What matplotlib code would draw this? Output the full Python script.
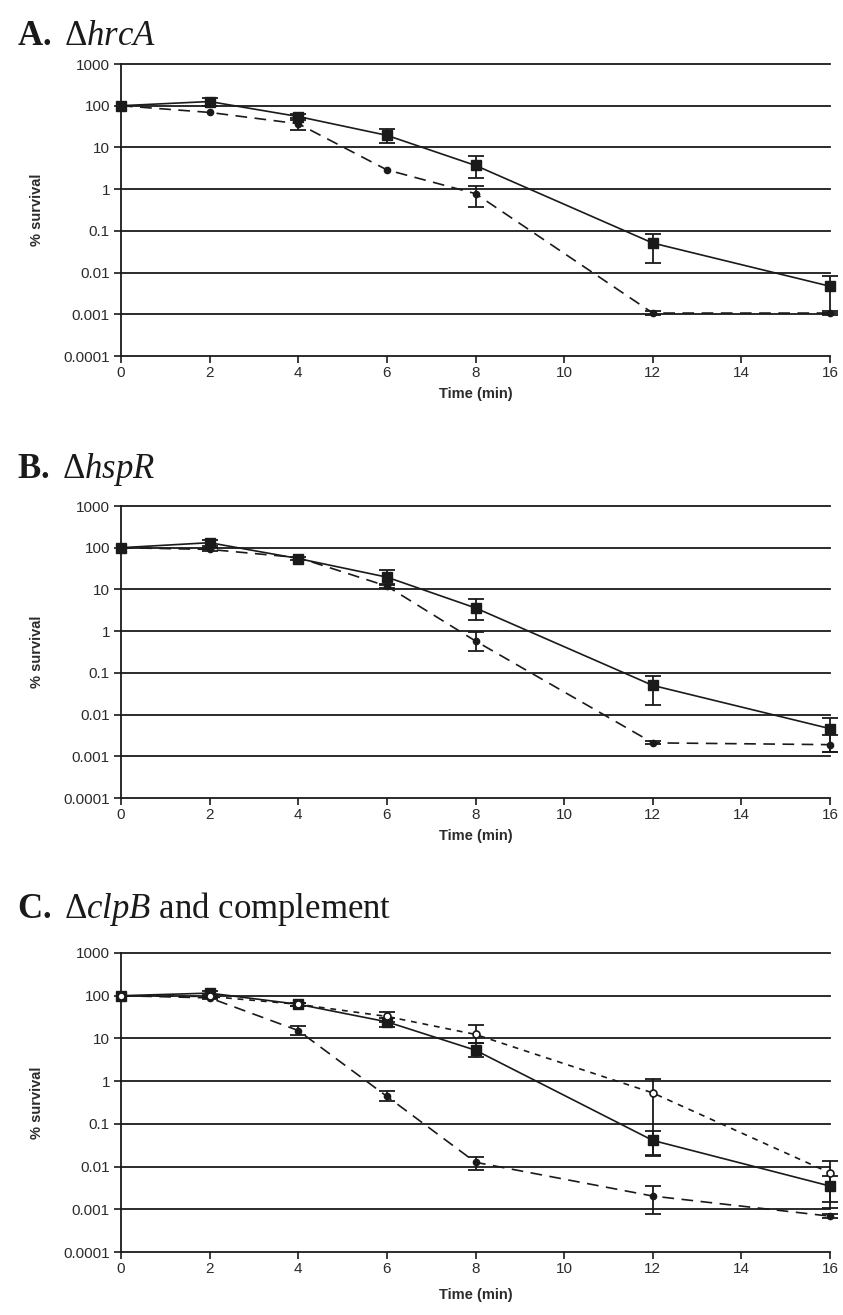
import numpy as np
import matplotlib.pyplot as plt

plt.rcParams['font.family'] = ['Liberation Sans', 'DejaVu Sans']
plt.rcParams['mathtext.fontset'] = 'custom'
plt.rcParams['mathtext.rm'] = 'Liberation Serif'
plt.rcParams['mathtext.it'] = 'Liberation Serif:italic'
plt.rcParams['mathtext.bf'] = 'Liberation Serif:bold'

time = [0, 2, 4, 6, 8, 12, 16]
nan = np.nan

# ---- A. hrcA ----
a_wt = [100, 126, 55, 19.5, 3.7, 0.051, 0.0047]
a_wt_lo = [nan, 100, 46, 12.7, 1.8, 0.017, 0.0011]
a_wt_hi = [nan, 155, 65, 27.6, 6.2, 0.086, 0.0081]
a_mut = [100, 69, 37, 2.9, 0.78, 0.00107, 0.00107]
a_mut_lo = [nan, nan, 26.5, nan, 0.37, 0.00094, 0.00094]
a_mut_hi = [nan, nan, 50, nan, 1.2, 0.00122, 0.00122]

# ---- B. hspR ----
b_wt = [100, 132, 55, 19.7, 3.6, 0.050, 0.0046]
b_wt_lo = [nan, 110, 50, 13.7, 1.8, 0.017, 0.0013]
b_wt_hi = [nan, 155, 61, 28.7, 6.0, 0.086, 0.0083]
b_mut = [100, 91, 58, 12, 0.58, 0.0021, 0.0019]
b_mut_lo = [nan, 84, nan, 11, 0.33, 0.0020, 0.0013]
b_mut_hi = [nan, 98, nan, 13, 0.93, 0.0023, 0.0032]

# ---- C. clpB and complement ----
c_wt = [100, 115, 63, 24.5, 5.3, 0.041, 0.0035]
c_wt_lo = [nan, 100, 58, 19, 3.6, 0.018, 0.0011]
c_wt_hi = [nan, 130, 68, 29.5, 7.9, 0.069, 0.006]
c_mut = [100, 89, 15.3, 0.44, 0.0126, 0.00204, 0.00069]
c_mut_lo = [nan, 82, 12, 0.34, 0.0081, 0.00079, 0.00062]
c_mut_hi = [nan, 96, 20, 0.58, 0.017, 0.0035, 0.00076]
c_comp = [100, 96, 63, 32.7, 12.4, 0.53, 0.0071]
c_comp_lo = [nan, 90, 58, 24, 7.7, 0.019, 0.0015]
c_comp_hi = [nan, 102, 68, 41, 21, 1.14, 0.0132]

titles = [r"$\mathbf{A.}\ \Delta\mathit{hrcA}$",
          r"$\mathbf{B.}\ \Delta\mathit{hspR}$",
          r"$\mathbf{C.}\ \Delta\mathit{clpB}$ and complement"]
title_y = [45, 478, 918]
ax_rects = [(64, 356), (506, 798), (953, 1252)]
xlabel_pad = [5, 5, 9]

W, H = 843, 1315
fig = plt.figure(figsize=(W / 100, H / 100), dpi=100)
ink = '#1a1a1a'
txt = '#2b2b2b'


def errplot(ax, y, lo, hi, **kw):
    y = np.array(y, dtype=float)
    lo = np.array(lo, dtype=float)
    hi = np.array(hi, dtype=float)
    # line + markers
    ax.plot(time, y, color=ink, lw=1.2, clip_on=False, zorder=3, **kw)
    # error bars only where they were drawn
    m = ~np.isnan(lo)
    t = np.array(time)[m]
    ax.errorbar(t, y[m], yerr=[y[m] - lo[m], hi[m] - y[m]], fmt='none', ecolor=ink,
                elinewidth=1.3, capsize=5.5, capthick=1.3, clip_on=False, zorder=2)


def setup(ax, lp):
    ax.set_yscale('log')
    ax.set_ylim(1e-4, 1e3)
    ax.set_xlim(0, 16)
    ax.set_yticks([1e-4, 1e-3, 1e-2, 1e-1, 1, 10, 100, 1000])
    ax.set_yticklabels(['0.0001', '0.001', '0.01', '0.1', '1', '10', '100', '1000'])
    ax.yaxis.set_minor_locator(plt.NullLocator())
    ax.set_xticks(range(0, 17, 2))
    for yv in [1e-3, 1e-2, 1e-1, 1, 10, 100, 1000]:
        ax.axhline(yv, color=ink, lw=1.3, zorder=1, clip_on=False)
    for s in ['top', 'right']:
        ax.spines[s].set_visible(False)
    for s in ['left', 'bottom']:
        ax.spines[s].set_color(ink)
        ax.spines[s].set_linewidth(1.3)
    ax.tick_params(direction='out', length=5, width=1.2, color=ink,
                   labelsize=11, labelcolor=txt, pad=3)
    ax.tick_params(axis='x', pad=2)
    ax.set_xlabel('Time (min)', fontsize=10.5, fontweight='bold', color=txt, labelpad=lp)
    ax.set_ylabel('% survival', fontsize=10.5, fontweight='bold', color=txt, labelpad=14)


axes = []
for (top, bot), lp in zip(ax_rects, xlabel_pad):
    ax = fig.add_axes([121 / W, 1 - bot / H, (830 - 121) / W, (bot - top) / H])
    setup(ax, lp)
    axes.append(ax)

longdash = (0, (7, 4.5))
shortdash = (0, (3.5, 3.5))

errplot(axes[0], a_wt, a_wt_lo, a_wt_hi, marker='s', ms=7, ls='-')
errplot(axes[0], a_mut, a_mut_lo, a_mut_hi, marker='o', ms=4.5, ls=longdash)

errplot(axes[1], b_wt, b_wt_lo, b_wt_hi, marker='s', ms=7, ls='-')
errplot(axes[1], b_mut, b_mut_lo, b_mut_hi, marker='o', ms=4.5, ls=longdash)

errplot(axes[2], c_wt, c_wt_lo, c_wt_hi, marker='s', ms=7, ls='-')
errplot(axes[2], c_mut, c_mut_lo, c_mut_hi, marker='o', ms=4.5, ls=longdash)
errplot(axes[2], c_comp, c_comp_lo, c_comp_hi, marker='o', ms=5, ls=shortdash,
        mfc='white', mec=ink, mew=1.2)

for t, ty in zip(titles, title_y):
    fig.text(17 / W, 1 - ty / H, t, fontsize=25, color=ink, va='baseline', ha='left',
             family='Liberation Serif')

fig.savefig('out.png', dpi=100)
